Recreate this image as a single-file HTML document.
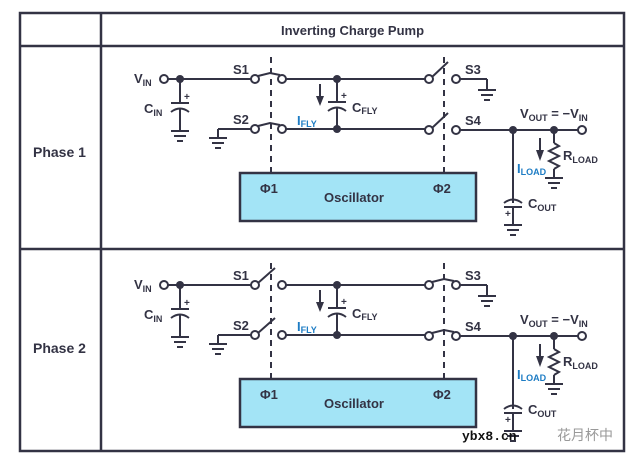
<!DOCTYPE html>
<html><head><meta charset="utf-8"><style>
html,body{margin:0;padding:0;background:#fff;}
svg{display:block;}
text{font-family:"Liberation Sans",sans-serif;font-weight:bold;fill:#333344;}
.b{fill:#1d7cc4;}
</style></head><body>
<svg width="641" height="465" viewBox="0 0 641 465" xmlns="http://www.w3.org/2000/svg">
<defs>
<g id="gnd" stroke="#333344" stroke-width="2"><line x1="-9" y1="0" x2="9" y2="0"/><line x1="-6" y1="5" x2="6" y2="5"/><line x1="-3" y1="10" x2="3" y2="10"/></g>
<g id="common">
 <g stroke="#333344" stroke-width="2" fill="none">
  <line x1="168" y1="79" x2="251" y2="79"/>
  <line x1="286" y1="79" x2="425" y2="79"/>
  <line x1="460" y1="79" x2="487" y2="79"/><line x1="487" y1="79" x2="487" y2="90"/>
  <line x1="218" y1="129" x2="251" y2="129"/><line x1="218" y1="129" x2="218" y2="138"/>
  <line x1="286" y1="129" x2="425" y2="129"/>
  <line x1="460" y1="130" x2="578" y2="130"/>
  <line x1="180" y1="79" x2="180" y2="103"/><line x1="171" y1="103" x2="189" y2="103"/>
  <path d="M171 112 Q180 105 189 112"/><line x1="180" y1="108" x2="180" y2="131"/>
  <line x1="337" y1="79" x2="337" y2="102"/><line x1="328" y1="102" x2="346" y2="102"/>
  <path d="M328 111 Q337 104 346 111"/><line x1="337" y1="107" x2="337" y2="129"/>
  <line x1="513" y1="130" x2="513" y2="203"/><path d="M504 203 Q513 196 522 203"/>
  <line x1="504" y1="207" x2="522" y2="207"/><line x1="513" y1="207" x2="513" y2="225"/>
  <line x1="554" y1="130" x2="554" y2="143"/>
  <polyline points="554,143 559,146 549,151 559,156 549,161 559,166 554,169"/>
  <line x1="554" y1="169" x2="554" y2="178"/>
  <line x1="271" y1="57" x2="271" y2="173" stroke-dasharray="6,5"/>
  <line x1="444" y1="57" x2="444" y2="173" stroke-dasharray="6,5"/>
 </g>
 <rect x="240" y="173" width="236" height="48" fill="#a3e4f6" stroke="#333344" stroke-width="2.5"/>
 <use href="#gnd" x="180" y="131"/><use href="#gnd" x="218" y="138"/><use href="#gnd" x="487" y="90"/>
 <use href="#gnd" x="513" y="225"/><use href="#gnd" x="554" y="178"/>
 <g fill="#fff" stroke="#333344" stroke-width="2">
  <circle cx="164" cy="79" r="4"/><circle cx="255" cy="79" r="4"/><circle cx="282" cy="79" r="4"/>
  <circle cx="429" cy="79" r="4"/><circle cx="456" cy="79" r="4"/>
  <circle cx="255" cy="129" r="4"/><circle cx="282" cy="129" r="4"/>
  <circle cx="429" cy="130" r="4"/><circle cx="456" cy="130" r="4"/>
  <circle cx="582" cy="130" r="4"/>
 </g>
 <g fill="#333344"><circle cx="180" cy="79" r="4"/><circle cx="337" cy="79" r="4"/><circle cx="337" cy="129" r="4"/>
  <circle cx="513" cy="130" r="4"/><circle cx="554" cy="130" r="4"/>
  <path d="M316 96 L324 96 L320 106 Z"/><path d="M536 150 L544 150 L540 161 Z"/></g>
 <g stroke="#333344" stroke-width="2"><line x1="320" y1="84" x2="320" y2="98"/><line x1="540" y1="138" x2="540" y2="152"/></g>
 <text x="134" y="83" font-size="13">V<tspan font-size="9" dy="3">IN</tspan></text>
 <text x="144" y="113" font-size="13">C<tspan font-size="9" dy="3">IN</tspan></text>
 <text x="184" y="100" font-size="10">+</text>
 <text x="341" y="99" font-size="10">+</text>
 <text x="505" y="217" font-size="10">+</text>
 <text x="233" y="74" font-size="13">S1</text>
 <text x="233" y="124" font-size="13">S2</text>
 <text x="465" y="74" font-size="13">S3</text>
 <text x="465" y="125" font-size="13">S4</text>
 <text class="b" x="297" y="125" font-size="13">I<tspan font-size="9" dy="2">FLY</tspan></text>
 <text x="352" y="112" font-size="13">C<tspan font-size="9" dy="2">FLY</tspan></text>
 <text x="520" y="118" font-size="13">V<tspan font-size="9" dy="3">OUT</tspan><tspan dy="-3"> = −V</tspan><tspan font-size="9" dy="3">IN</tspan></text>
 <text x="563" y="160" font-size="13">R<tspan font-size="9" dy="3">LOAD</tspan></text>
 <text class="b" x="517" y="173" font-size="13">I<tspan font-size="9" dy="2">LOAD</tspan></text>
 <text x="528" y="208" font-size="13">C<tspan font-size="9" dy="3">OUT</tspan></text>
 <text x="260" y="193" font-size="13">Φ1</text>
 <text x="433" y="193" font-size="13">Φ2</text>
 <text x="324" y="202" font-size="13">Oscillator</text>
</g>
</defs>
<g stroke="#333344" stroke-width="2.5" fill="none">
 <rect x="20" y="13" width="604" height="438"/>
 <line x1="101" y1="13" x2="101" y2="451"/>
 <line x1="20" y1="46" x2="624" y2="46"/>
 <line x1="20" y1="249" x2="624" y2="249"/>
</g>
<text x="281" y="35" font-size="13">Inverting Charge Pump</text>
<text x="33" y="157" font-size="14">Phase 1</text>
<text x="33" y="353" font-size="14">Phase 2</text>
<use href="#common"/>
<g stroke="#333344" stroke-width="2" fill="none">
 <polyline points="258,76 270,73 280,75"/>
 <polyline points="258,126 270,123 280,125"/>
 <line x1="432" y1="77" x2="448" y2="62"/>
 <line x1="432" y1="128" x2="448" y2="113"/>
</g>
<g transform="translate(0,206)">
 <use href="#common"/>
 <g stroke="#333344" stroke-width="2" fill="none">
  <line x1="258" y1="77" x2="275" y2="62"/>
  <line x1="258" y1="127" x2="275" y2="112"/>
  <polyline points="432,76 444,73 454,75"/>
  <polyline points="432,127 444,124 454,126"/>
 </g>
</g>
<text x="462" y="440" font-size="13" style="font-family:'Liberation Mono',monospace;fill:#111">ybx8.cn</text>
<text x="557" y="440" font-size="14" style="font-family:'Liberation Sans','Noto Sans CJK SC',sans-serif;font-weight:normal;fill:#999">花月杯中</text>
</svg>
</body></html>
